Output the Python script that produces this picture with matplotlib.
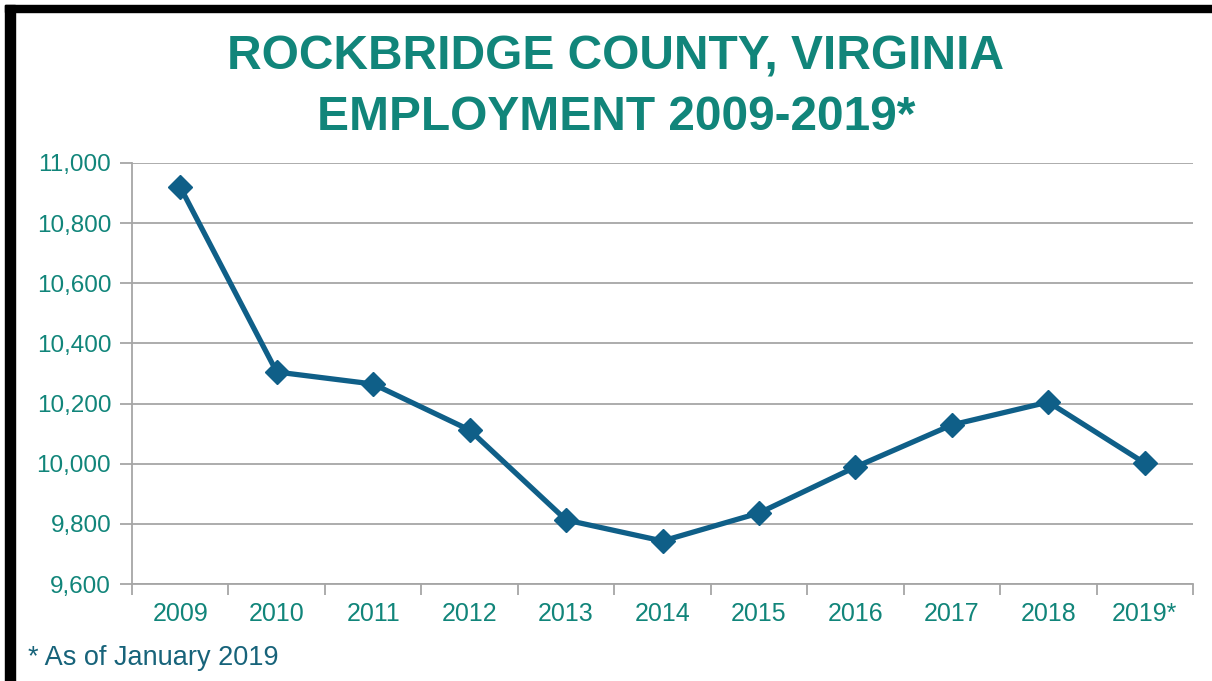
import numpy as np
import matplotlib.pyplot as plt
from matplotlib.ticker import FuncFormatter, FixedLocator

plt.rcParams['font.family'] = ['Liberation Sans', 'DejaVu Sans']

years = ['2009', '2010', '2011', '2012', '2013', '2014', '2015', '2016', '2017', '2018', '2019*']
employment = [10920, 10305, 10265, 10112, 9813, 9743, 9836, 9989, 10129, 10205, 10002]
y_ticks = [9600, 9800, 10000, 10200, 10400, 10600, 10800, 11000]

teal = '#11857a'
line_blue = '#0f5f88'
grid_grey = '#a6a6a6'

fig = plt.figure(figsize=(12.12, 6.81), dpi=100)
ax = fig.add_axes([132 / 1212, 1 - 584 / 681, (1193 - 132) / 1212, (584 - 163) / 681])

x = np.arange(len(years))
ax.plot(x, employment, color=line_blue, linewidth=3.8, marker='D',
        markersize=12, markerfacecolor=line_blue, markeredgecolor=line_blue,
        solid_joinstyle='round', zorder=3)

ax.set_xlim(-0.5, len(years) - 0.5)
ax.set_ylim(9600, 11000)
ax.set_yticks(y_ticks)
ax.yaxis.set_major_formatter(FuncFormatter(lambda v, p: f'{int(v):,}'))
ax.grid(axis='y', color=grid_grey, linewidth=1.3)
ax.set_axisbelow(True)

# category labels centred, tick marks between categories
ax.set_xticks(x)
ax.set_xticklabels(years)
ax.xaxis.set_minor_locator(FixedLocator(np.arange(len(years) + 1) - 0.5))
ax.tick_params(axis='x', which='major', length=0, pad=13, labelsize=18, labelcolor=teal)
ax.tick_params(axis='x', which='minor', length=8, width=1.3, color=grid_grey, direction='out')
ax.tick_params(axis='y', length=9, width=1.3, color=grid_grey, pad=6, labelsize=17.5, labelcolor=teal)

for side in ['top', 'right']:
    ax.spines[side].set_visible(False)
for side in ['left', 'bottom']:
    ax.spines[side].set_color(grid_grey)
    ax.spines[side].set_linewidth(1.3)

fig.text(0.508, 1 - 57 / 681, 'ROCKBRIDGE COUNTY, VIRGINIA', ha='center', va='center',
         fontsize=34.5, fontweight='bold', color=teal)
fig.text(0.508, 1 - 117 / 681, 'EMPLOYMENT 2009-2019*', ha='center', va='center',
         fontsize=34.5, fontweight='bold', color=teal)
fig.text(28 / 1212, 1 - 658 / 681, '* As of January 2019', ha='left', va='center',
         fontsize=19.5, color='#17637a')

# black frame along top and left edges
fig.add_artist(plt.Rectangle((5 / 1212, 0), 10 / 1212, 1 - 5 / 681,
                             transform=fig.transFigure, color='black', zorder=10))
fig.add_artist(plt.Rectangle((5 / 1212, 1 - 12 / 681), 1, 7 / 681,
                             transform=fig.transFigure, color='black', zorder=10))

fig.savefig('out.png', dpi=100)
